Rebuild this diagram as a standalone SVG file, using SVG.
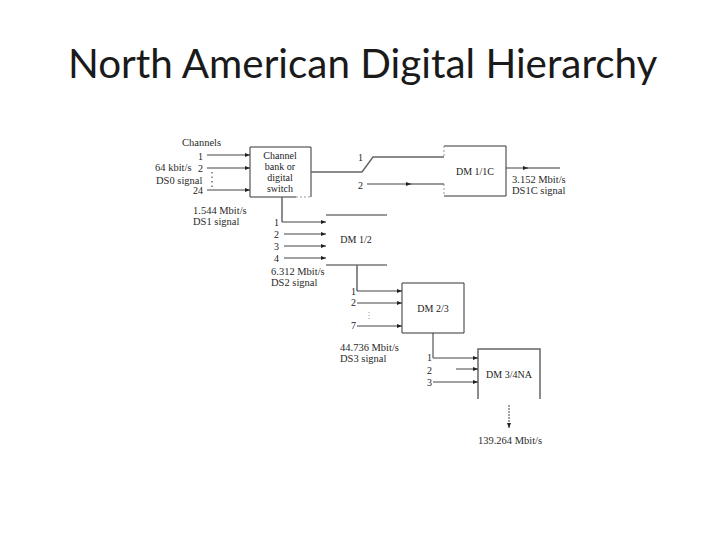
<svg xmlns="http://www.w3.org/2000/svg" width="720" height="540" viewBox="0 0 720 540">
<defs>
<style>
.t{font-family:"Liberation Serif","Times New Roman",serif;font-size:10.5px;fill:#2a2a2a}
.n{font-family:"Liberation Serif","Times New Roman",serif;font-size:10px;fill:#222}
.title{font-family:Lato,"Open Sans",sans-serif;font-size:40.4px;fill:#1a1a1a}
.l{fill:none;stroke:#333;stroke-width:1}
.f{fill:none;stroke:#999;stroke-width:1}
.g{fill:none;stroke:#666;stroke-width:1.5}
.a{fill:none;stroke:#444;stroke-width:1;marker-end:url(#ah)}
</style>
<marker id="ah" markerWidth="6" markerHeight="6" refX="5" refY="2.5" orient="auto" markerUnits="userSpaceOnUse"><path d="M0 0.5L5 2.5L0 4.5Z" fill="#222"/></marker>
</defs>
<rect width="720" height="540" fill="#fff"/>
<text class="title" x="68" y="78">North American Digital Hierarchy</text>
<g id="node-channel-bank">
<path class="l" d="M296 197H250V147H311V197"/>
<path class="f" d="M296 197H311" stroke-dasharray="2 2"/>
<text class="n" text-anchor="middle" x="280" y="159">Channel</text>
<text class="n" text-anchor="middle" x="280" y="170">bank or</text>
<text class="n" text-anchor="middle" x="280" y="181">digital</text>
<text class="n" text-anchor="middle" x="280" y="192">switch</text>
</g>
<g id="node-dm-1-1c">
<path class="l" d="M444 146H506V196H444"/>
<path class="f" d="M444 146V158M444 184V196" stroke-dasharray="2 2"/>
<text class="n" text-anchor="middle" x="475" y="175">DM 1/1C</text>
</g>
<g id="node-dm-1-2">
<path class="l" d="M326 215H387M326 265H387"/>
<text class="n" text-anchor="middle" x="356" y="243">DM 1/2</text>
</g>
<g id="node-dm-2-3">
<path class="l" d="M402 283H464V333H402Z"/>
<text class="n" text-anchor="middle" x="433" y="312">DM 2/3</text>
</g>
<g id="node-dm-3-4na">
<path class="g" d="M478 399V349H540V399"/>
<text class="n" text-anchor="middle" x="509" y="378">DM 3/4NA</text>
</g>
<g id="connectors">
<path class="a" d="M207 155H250"/>
<path class="a" d="M207 168H250"/>
<path class="a" d="M207 190H250"/>
<path class="g" d="M311 172H362L373 157H444"/>
<path class="a" d="M367 184H411"/>
<path class="l" d="M410 184H444"/>
<path class="a" d="M506 168H528"/>
<path class="l" d="M527 168H560"/>
<path class="g" d="M282 197V222"/>
<path class="a" d="M282 222H326"/>
<path class="a" d="M284 234H326"/>
<path class="a" d="M284 246H326"/>
<path class="a" d="M284 258H326"/>
<path class="g" d="M357 265V291"/>
<path class="a" d="M357 291H402"/>
<path class="a" d="M357 303H402"/>
<path class="a" d="M357 326H402"/>
<path class="f" d="M369 312V320" stroke-dasharray="1 2"/>
<path class="l" d="M433 333V358"/>
<path class="a" d="M433 358H478"/>
<path class="a" d="M456 369H478"/>
<path class="a" d="M433 382H478"/>
<path class="a" d="M509 405V428" stroke-dasharray="2 1"/>
<path class="l" d="M212 172V187" stroke-dasharray="1.5 3"/>
</g>
<g id="labels">
<text class="t" x="182" y="146">Channels</text>
<text class="n" x="198" y="160">1</text>
<text class="t" x="155" y="171">64 kbit/s</text>
<text class="n" x="198" y="172">2</text>
<text class="t" x="156" y="184">DS0 signal</text>
<text class="n" x="193" y="194">24</text>
<text class="t" x="193" y="214">1.544 Mbit/s</text>
<text class="t" x="193" y="225">DS1 signal</text>
<text class="n" x="274" y="226">1</text>
<text class="n" x="274" y="238">2</text>
<text class="n" x="274" y="250">3</text>
<text class="n" x="274" y="262">4</text>
<text class="t" x="271" y="275">6.312 Mbit/s</text>
<text class="t" x="271" y="286">DS2 signal</text>
<text class="n" x="358" y="161">1</text>
<text class="n" x="358" y="189">2</text>
<text class="t" x="512" y="183">3.152 Mbit/s</text>
<text class="t" x="512" y="194">DS1C signal</text>
<text class="n" x="351" y="295">1</text>
<text class="n" x="351" y="306">2</text>
<text class="n" x="351" y="329">7</text>
<text class="t" x="340" y="351">44.736 Mbit/s</text>
<text class="t" x="340" y="362">DS3 signal</text>
<text class="n" x="427" y="361">1</text>
<text class="n" x="427" y="374">2</text>
<text class="n" x="427" y="386">3</text>
<text class="t" text-anchor="middle" x="510" y="444">139.264 Mbit/s</text>
</g>
</svg>
